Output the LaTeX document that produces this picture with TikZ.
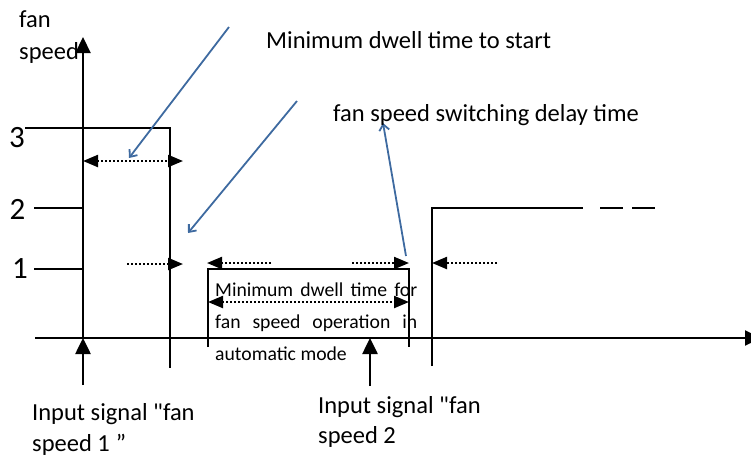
\documentclass[tikz,border=0pt]{standalone}
\usepackage{fontspec}
\setmainfont{Carlito}
\newfontfamily\plainfont{Carlito}
\usetikzlibrary{arrows.meta}
\definecolor{blueline}{RGB}{62,106,160}
\tikzset{
  sig/.style={line width=2.2pt, black},
  dotarrow/.style={line width=2.2pt, dash pattern=on 1.8pt off 2.2pt},
  tri/.tip={Triangle[length=15pt,width=12pt]},
  bigtri/.tip={Triangle[length=16pt,width=15pt]},
  inarrow/.style={line width=2.6pt, -bigtri},
  callout/.style={blueline, line width=1.8pt, -{Straight Barb[length=6pt,width=10pt]}},
  bigtext/.style={font=\fontsize{24.5}{30}\selectfont, inner sep=0pt, anchor=base west},
  smalltext/.style={font=\fontsize{19.7}{24}\selectfont, inner sep=0pt, anchor=base west},
  leveltext/.style={font=\fontsize{31}{34}\selectfont, inner sep=0pt, anchor=base},
}
\newcommand{\dq}{{\plainfont"}}
\begin{document}
\begin{tikzpicture}[x=1pt,y=-1pt]
\useasboundingbox (0,0) rectangle (751,456);
% axes
\coordinate (xs) at (35,338);
\coordinate (xe) at (761,338);
\coordinate (o) at (83,338);
\coordinate (yt) at (83,37);
\draw[sig,-bigtri] (xs) -- (xe);
\draw[sig,-bigtri] (o) -- (yt);
% level ticks
\coordinate (t3) at (25,128);
\coordinate (t2) at (34,208);
\coordinate (a2) at (83,208);
\coordinate (t1) at (34,269);
\coordinate (a1) at (83,269);
\draw[sig] (t2) -- (a2);
\draw[sig] (t1) -- (a1);
% pulse at level 3
\coordinate (p1t) at (170,128);
\coordinate (p1b) at (170,368);
\draw[sig] (t3) -- (p1t) -- (p1b);
% pulse at level 1
\coordinate (p2a) at (208,347);
\coordinate (p2b) at (208,269);
\coordinate (p2c) at (409,269);
\coordinate (p2d) at (409,347);
\draw[sig] (p2a) -- (p2b) -- (p2c) -- (p2d);
% level 2
\coordinate (p3a) at (432,366);
\coordinate (p3b) at (432,208);
\coordinate (p3c) at (583,208);
\draw[sig] (p3a) -- (p3b) -- (p3c);
\coordinate (d1a) at (600,208);
\coordinate (d1b) at (623,208);
\coordinate (d2a) at (632,208);
\coordinate (d2b) at (655,208);
\draw[sig] (d1a) -- (d1b);
\draw[sig] (d2a) -- (d2b);
% dotted arrows
\coordinate (r1a) at (83,161);
\coordinate (r1b) at (183,161);
\draw[dotarrow,tri-tri] (r1a) -- (r1b);
\coordinate (r2a) at (127,264);
\coordinate (r2b) at (183,264);
\draw[dotarrow,-tri] (r2a) -- (r2b);
\coordinate (r3a) at (271,263);
\coordinate (r3b) at (207,263);
\draw[dotarrow,-tri] (r3a) -- (r3b);
\coordinate (r4a) at (352,263);
\coordinate (r4b) at (409,263);
\draw[dotarrow,-tri] (r4a) -- (r4b);
\coordinate (r5a) at (208,302);
\coordinate (r5b) at (409,302);
\draw[dotarrow,tri-tri] (r5a) -- (r5b);
\coordinate (r6a) at (497,263);
\coordinate (r6b) at (432,263);
\draw[dotarrow,-tri] (r6a) -- (r6b);
% input arrows
\coordinate (i1a) at (83,385);
\coordinate (i2a) at (370,386);
\coordinate (i2b) at (370,338);
\draw[inarrow] (i1a) -- (o);
\draw[inarrow] (i2a) -- (i2b);
% callouts
\coordinate (b1a) at (229,27);
\coordinate (b1b) at (129,158);
\coordinate (b2a) at (297,101);
\coordinate (b2b) at (188,233);
\coordinate (b3a) at (406,256);
\coordinate (b3b) at (383,123);
\draw[callout] (b1a) -- (b1b);
\draw[callout] (b2a) -- (b2b);
\draw[callout] (b3a) -- (b3b);
% texts
\node[bigtext] (fan) at (19,27) {fan};
\node[bigtext] (speed) at (19,59) {speed};
\node[leveltext] (n3) at (17,147.5) {3};
\node[leveltext] (n2) at (17.5,219) {2};
\node[leveltext] (n1) at (20,278) {1};
\node[bigtext] (mstart) at (266,48) {Minimum dwell time to start};
\node[bigtext] (delay) at (333,121.5) {fan speed switching delay time};
\node[smalltext] (m1) at (215,296) {\makebox[202pt][s]{Minimum dwell time for}};
\node[smalltext] (m2) at (215,328) {\makebox[202pt][s]{fan speed operation in}};
\node[smalltext] (m3) at (215,360) {automatic mode};
\node[bigtext] (in1a) at (32,420) {Input signal \dq fan};
\node[bigtext] (in1b) at (32,451) {speed 1\hspace{6pt}”};
\node[bigtext] (in2a) at (318,413) {Input signal \dq fan};
\node[bigtext] (in2b) at (318,443) {speed 2};
\end{tikzpicture}
\end{document}
